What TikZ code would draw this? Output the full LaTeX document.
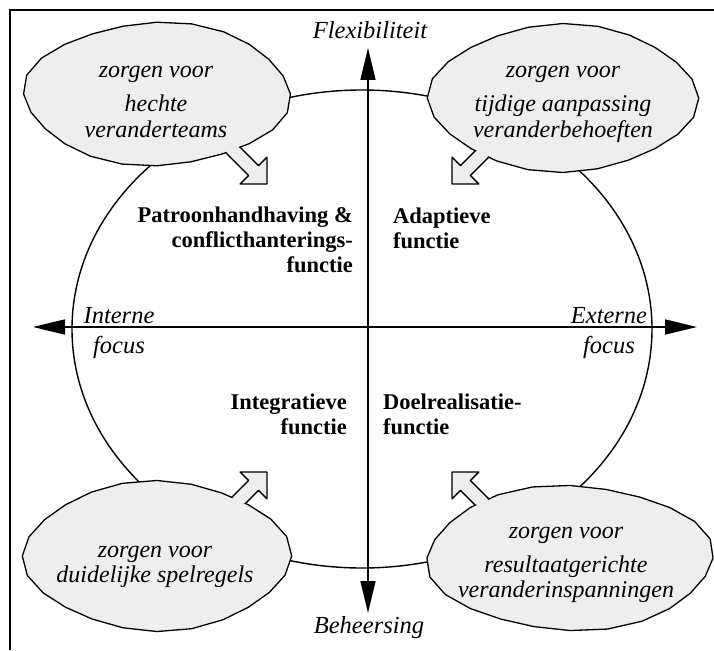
\documentclass[tikz,border=0pt]{standalone}
\usepackage{fontspec}
\setmainfont{Liberation Serif}
\usetikzlibrary{arrows.meta}

\definecolor{bubblegray}{RGB}{238,238,238}

\tikzset{
  frameline/.style={line width=1.4pt},
  axisline/.style={line width=1.6pt,
    {Triangle[length=32pt,width=15pt]}-{Triangle[length=32pt,width=15pt]}},
  ringline/.style={line width=1.4pt},
  bubble/.style={fill=bubblegray, draw=black, line width=1.3pt, line join=round},
  bubbletext/.style={font=\fontsize{24}{25}\selectfont\itshape, align=center, inner sep=0pt},
  axislabel/.style={font=\fontsize{24.5}{30}\selectfont\itshape, align=center, inner sep=0pt},
  functext/.style={font=\fontsize{22.5}{25}\selectfont\bfseries, inner sep=0pt},
  % callout pointer: tip at the origin, pointing along +x
  callarrow/.pic={
    \filldraw[bubble] (0,0) -- (-19,-19) -- (-19,-7) -- (-80,-7)
      -- (-80,7) -- (-19,7) -- (-19,19) -- cycle;
  },
  % covers the bubble outline where the pointer leaves the bubble
  callgap/.pic={
    \fill[bubblegray] (-70,-6) rectangle (-21,6);
  },
}

\begin{document}
\begin{tikzpicture}[x=1pt,y=-1pt]
\useasboundingbox (0,0) rectangle (714,650);

% open frame (top and left edges)
\draw[frameline] (10,650) -- (10,10) -- (714,10);

% large ring
\draw[ringline] (362,329) ellipse [x radius=290pt, y radius=239pt];

% axes
\coordinate (top) at (368,48);
\coordinate (bottom) at (368,613);
\coordinate (left) at (33,327);
\coordinate (right) at (697,327);
\draw[axisline] (left) -- (right);
\draw[axisline] (bottom) -- (top);

% top-left bubble
\pic[rotate=-45] at (267,184) {callarrow};
\path[bubble] plot[domain=0:360, samples=25, variable=\t]
  ({157+132*cos(\t)*(1+0.022*sin(4*\t+30))}, {94+71*sin(\t)*(1+0.022*sin(4*\t+30))}) -- cycle;
\pic[rotate=-45] at (267,184) {callgap};

% top-right bubble
\pic[rotate=-135] at (452,184) {callarrow};
\path[bubble] plot[domain=0:360, samples=25, variable=\t]
  ({563+133*cos(\t)*(1+0.022*sin(4*\t+70))}, {98+73*sin(\t)*(1+0.022*sin(4*\t+70))}) -- cycle;
\pic[rotate=-135] at (452,184) {callgap};

% bottom-left bubble
\pic[rotate=45] at (267,472) {callarrow};
\path[bubble] plot[domain=0:360, samples=25, variable=\t]
  ({157+132*cos(\t)*(1+0.022*sin(4*\t+110))}, {556+74*sin(\t)*(1+0.022*sin(4*\t+110))}) -- cycle;
\pic[rotate=45] at (267,472) {callgap};

% bottom-right bubble
\pic[rotate=135] at (452,472) {callarrow};
\path[bubble] plot[domain=0:360, samples=25, variable=\t]
  ({570+142*cos(\t)*(1+0.022*sin(4*\t+160))}, {558+72*sin(\t)*(1+0.022*sin(4*\t+160))}) -- cycle;
\pic[rotate=135] at (452,472) {callgap};

% bubble texts (base anchor sits on the last line)
\node[bubbletext, anchor=base] (tl) at (156,137) {zorgen voor\\[9pt]hechte\\veranderteams};
\node[bubbletext, anchor=base] (tr) at (563,137) {zorgen voor\\[9pt]tijdige aanpassing\\veranderbehoeften};
\node[bubbletext, anchor=base] (bl) at (155,582) {zorgen voor\\duidelijke spelregels};
\node[bubbletext, anchor=base] (br) at (566,597) {zorgen voor\\[9pt]resultaatgerichte\\veranderinspanningen};

% axis labels
\node[axislabel, anchor=base] (flex) at (370,39) {Flexibiliteit};
\node[axislabel, anchor=base] (beh) at (369,633) {Beheersing};
\node[axislabel, anchor=base] (intern) at (119,353) {Interne\\focus};
\node[axislabel, anchor=base] (extern) at (609,353) {Externe\\focus};

% quadrant functions
\node[functext, align=right, anchor=base east] (patroon) at (353,272) {Patroonhandhaving \&\\conflicthanterings-\\functie};
\node[functext, align=left, anchor=base west] (adapt) at (393,248) {Adaptieve\\functie};
\node[functext, align=right, anchor=base east] (integr) at (347,434) {Integratieve\\functie};
\node[functext, align=left, anchor=base west] (doel) at (383,434) {Doelrealisatie-\\functie};
\end{tikzpicture}
\end{document}
